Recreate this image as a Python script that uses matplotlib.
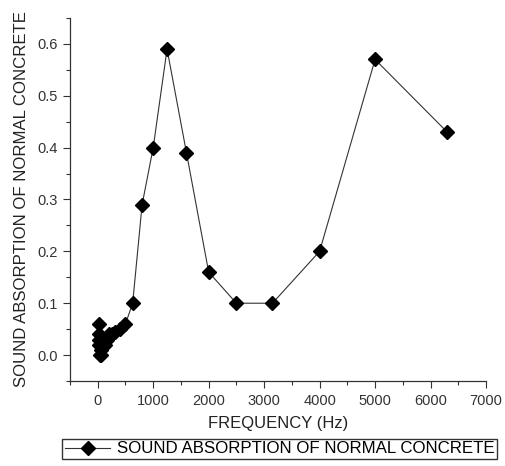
import matplotlib
matplotlib.use("Agg")
import matplotlib.pyplot as plt
from matplotlib.ticker import MultipleLocator

plt.rcParams['font.family'] = ['Liberation Sans', 'DejaVu Sans']

freq_hz = [16, 20, 25, 31.5, 40, 50, 63, 80, 100, 125, 160, 200, 250, 315, 400, 500,
           630, 800, 1000, 1250, 1600, 2000, 2500, 3150, 4000, 5000, 6300]
absorption = [0.04, 0.06, 0.03, 0.02, 0.0, 0.01, 0.0, 0.02, 0.03, 0.02, 0.03, 0.04, 0.04, 0.045, 0.05, 0.06,
              0.10, 0.29, 0.40, 0.59, 0.39, 0.16, 0.10, 0.10, 0.20, 0.57, 0.43]
x_ticks = [0, 1000, 2000, 3000, 4000, 5000, 6000, 7000]
y_ticks = [0.0, 0.1, 0.2, 0.3, 0.4, 0.5, 0.6]
series_label = "SOUND ABSORPTION OF NORMAL CONCRETE"

fig = plt.figure(figsize=(5.05, 4.66), dpi=100)
ax = fig.add_axes([0.1386, 0.1824, 0.8238, 0.779])
line, = ax.plot(freq_hz, absorption, color='#333333', lw=0.8, marker='D', markersize=7.5,
                markerfacecolor='black', markeredgecolor='black', label=series_label)

ax.set_xlim(-500, 7000)
ax.set_ylim(-0.05, 0.65)
ax.set_xticks(x_ticks)
ax.set_yticks(y_ticks)
ax.set_yticklabels([f"{v:.1f}" for v in y_ticks])
ax.xaxis.set_minor_locator(MultipleLocator(500))
ax.yaxis.set_minor_locator(MultipleLocator(0.05))
for s in ['top', 'right']:
    ax.spines[s].set_visible(False)
for s in ['left', 'bottom']:
    ax.spines[s].set_color('#333333')
    ax.spines[s].set_linewidth(0.9)
ax.tick_params(which='major', direction='out', length=5, width=0.8, labelsize=10.5,
               colors='#333333', labelcolor='#333333', pad=4)
ax.tick_params(which='minor', direction='out', length=3, width=0.8, colors='#333333')

ax.set_xlabel("FREQUENCY (Hz)", fontsize=12, color='#222222', labelpad=6)
ax.set_ylabel(series_label, fontsize=12.1, color='#222222', labelpad=6)

leg = fig.legend(handles=[line], loc='center', bbox_to_anchor=(0.554, 0.0365), fontsize=12.2,
                 frameon=True, fancybox=False, edgecolor='black', borderpad=0.15,
                 handlelength=2.7, handletextpad=0.4, borderaxespad=0)
leg.get_frame().set_linewidth(1.0)

fig.savefig("out.png", dpi=100)
